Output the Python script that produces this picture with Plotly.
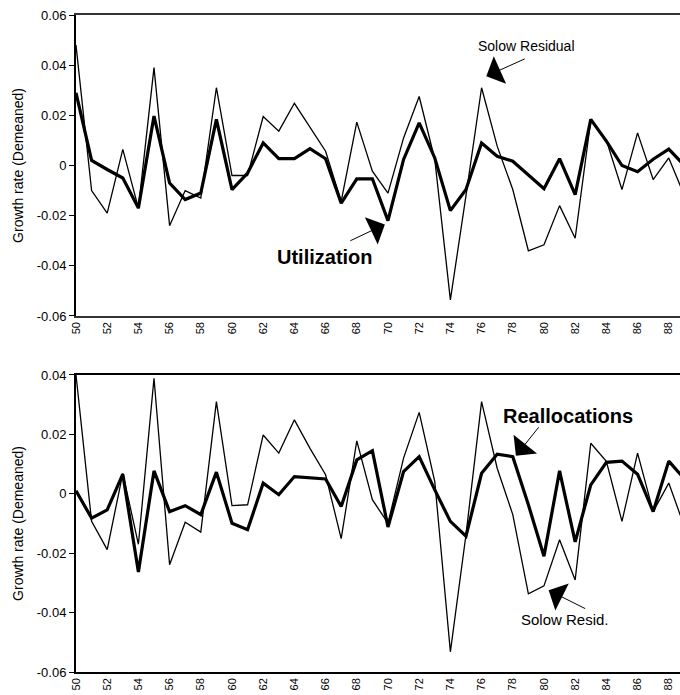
import plotly.graph_objects as go

years = list(range(50, 90))
tick_years = list(range(50, 90, 2))
tick_year_labels = [str(y) for y in tick_years]

solow_top = [0.048, -0.010, -0.019, 0.0064, -0.017, 0.039, -0.024, -0.010, -0.013, 0.031,
             -0.004, -0.004, 0.0195, 0.0137, 0.0248, 0.015, 0.0057, -0.0143, 0.0173, -0.0023,
             -0.011, 0.011, 0.0275, 0.0024, -0.0536, -0.012, 0.031, 0.0077, -0.0096, -0.034,
             -0.0316, -0.016, -0.029, 0.018, 0.010, -0.0096, 0.013, -0.0056, 0.003, -0.012]
utilization = [0.029, 0.002, -0.0016, -0.005, -0.017, 0.0197, -0.007, -0.0136, -0.011, 0.0184,
               -0.0096, -0.003, 0.009, 0.0027, 0.0027, 0.0067, 0.0027, -0.015, -0.0053, -0.0053,
               -0.022, 0.0024, 0.017, 0.003, -0.018, -0.0096, 0.009, 0.0037, 0.0017, -0.0036,
               -0.0093, 0.0027, -0.0116, 0.0184, 0.0097, 0.0, -0.0025, 0.0025, 0.0065, 0.0]
solow_bottom = [0.040, -0.0093, -0.0188, 0.0069, -0.017, 0.0389, -0.0239, -0.0096, -0.0129, 0.031,
                -0.004, -0.0037, 0.0198, 0.0137, 0.0249, 0.0153, 0.0064, -0.0151, 0.0178, -0.002,
                -0.0099, 0.012, 0.0274, 0.0041, -0.0532, -0.0138, 0.031, 0.0086, -0.007, -0.0337,
                -0.031, -0.0155, -0.029, 0.017, 0.0109, -0.0093, 0.0137, -0.006, 0.0036, -0.011]
reallocations = [0.001, -0.0082, -0.0054, 0.0066, -0.0263, 0.0077, -0.006, -0.004, -0.007, 0.0073,
                 -0.0099, -0.0121, 0.0036, -0.0003, 0.0058, 0.0053, 0.005, -0.0043, 0.0114, 0.0145,
                 -0.0112, 0.0075, 0.0125, 0.0013, -0.0093, -0.0143, 0.0069, 0.0133, 0.0125, -0.0037,
                 -0.021, 0.0077, -0.0162, 0.003, 0.0106, 0.011, 0.0066, -0.006, 0.011, 0.005]

top_ticks = [0.06, 0.04, 0.02, 0, -0.02, -0.04, -0.06]
top_tick_labels = ["0.06", "0.04", "0.02", "0", "-0.02", "-0.04", "-0.06"]
bot_ticks = [0.04, 0.02, 0, -0.02, -0.04, -0.06]
bot_tick_labels = ["0.04", "0.02", "0", "-0.02", "-0.04", "-0.06"]

FONT = "Liberation Sans, Arial, sans-serif"
W, H = 680, 695
ml, mr, mt, mb = 76, 0, 15, 23
xr = [50, 88.72]
top_range = [-0.06, 0.06]
bot_range = [-0.06, 0.04]
top_dom = [0.5419, 1.0]
bot_dom = [0.0, 0.4521]

def zero_pos(dom, rng):
    return dom[0] + (dom[1] - dom[0]) * (0 - rng[0]) / (rng[1] - rng[0])

fig = go.Figure()
fig.add_trace(go.Scatter(x=years, y=solow_top, mode="lines", line=dict(color="black", width=1.3),
                         xaxis="x", yaxis="y", showlegend=False))
fig.add_trace(go.Scatter(x=years, y=utilization, mode="lines", line=dict(color="black", width=3.2),
                         xaxis="x", yaxis="y", showlegend=False))
fig.add_trace(go.Scatter(x=years, y=solow_bottom, mode="lines", line=dict(color="black", width=1.3),
                         xaxis="x2", yaxis="y2", showlegend=False, cliponaxis=False))
fig.add_trace(go.Scatter(x=years, y=reallocations, mode="lines", line=dict(color="black", width=3.2),
                         xaxis="x2", yaxis="y2", showlegend=False))

xbase = dict(range=xr, tickmode="array", tickvals=tick_years, ticktext=tick_year_labels,
             tickangle=-90, tickfont=dict(family=FONT, size=11, color="black"),
             showgrid=False, zeroline=False, showline=True, linewidth=1.5,
             mirror=True, ticks="", fixedrange=True)
ybase = dict(showgrid=False, zeroline=False, showline=True, linecolor="black", linewidth=2,
             ticks="outside", ticklen=5, tickcolor="black", tickwidth=1,
             tickfont=dict(family=FONT, size=13, color="black"),
             title=dict(text="Growth rate (Demeaned)", font=dict(family=FONT, size=14, color="black"),
                        standoff=10))

zbase = dict(range=xr, showgrid=False, zeroline=False, showline=True, linecolor="#555",
             linewidth=1.5, ticks="outside", ticklen=4, tickcolor="#555", tickwidth=1,
             tickmode="linear", tick0=50, dtick=1, showticklabels=False, anchor="free")

fig.update_layout(
    width=W, height=H,
    margin=dict(l=ml, r=mr, t=mt, b=mb),
    paper_bgcolor="white", plot_bgcolor="white",
    xaxis=dict(xbase, domain=[0, 1], anchor="y", linecolor="#333"),
    yaxis=dict(ybase, domain=top_dom, range=top_range, tickmode="array",
               tickvals=top_ticks, ticktext=top_tick_labels, anchor="x"),
    xaxis2=dict(xbase, domain=[0, 1], anchor="y2", linecolor="black"),
    yaxis2=dict(ybase, domain=bot_dom, range=bot_range, tickmode="array",
                tickvals=bot_ticks, ticktext=bot_tick_labels, anchor="x2"),
    xaxis3=dict(zbase, overlaying="x", position=zero_pos(top_dom, top_range)),
    xaxis4=dict(zbase, overlaying="x2", position=zero_pos(bot_dom, bot_range)),
    showlegend=False,
)

arrow = dict(showarrow=True, arrowhead=1, arrowsize=5, arrowwidth=1.0, arrowcolor="black",
             text="", font=dict(size=1))
fig.add_annotation(dict(arrow, x=76.3, y=0.0356, xref="x", yref="y", ax=40, ay=-18))
fig.add_annotation(x=78.85, y=0.0476, xref="x", yref="y", text="Solow Residual", showarrow=False,
                   font=dict(family=FONT, size=14, color="black"))
fig.add_annotation(dict(arrow, x=69.8, y=-0.0235, xref="x", yref="y", ax=-36, ay=17))
fig.add_annotation(x=65.96, y=-0.0364, xref="x", yref="y", text="<b>Utilization</b>", showarrow=False,
                   font=dict(family=FONT, size=20, color="black"))

fig.add_annotation(dict(arrow, x=78.2, y=0.0128, xref="x2", yref="y2", ax=24, ay=-30))
fig.add_annotation(x=81.54, y=0.0262, xref="x2", yref="y2", text="<b>Reallocations</b>", showarrow=False,
                   font=dict(family=FONT, size=20, color="black"))
fig.add_annotation(dict(arrow, x=80.3, y=-0.0325, xref="x2", yref="y2", ax=38, ay=19))
fig.add_annotation(x=81.35, y=-0.0423, xref="x2", yref="y2", text="Solow Resid.", showarrow=False,
                   font=dict(family=FONT, size=15, color="black"))

fig.write_html("out.html")
